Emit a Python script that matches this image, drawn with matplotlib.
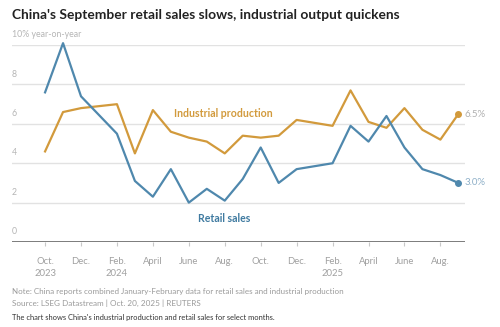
import matplotlib
matplotlib.use("Agg")
import matplotlib.pyplot as plt

plt.rcParams['font.family'] = ['Lato', 'DejaVu Sans']

# month index: Oct 2023 = 0 (January folded into February)
months = [0, 1, 2, 4, 5, 6, 7, 8, 9, 10, 11, 12, 13, 14,
          16, 17, 18, 19, 20, 21, 22, 23]
retail = [7.6, 10.1, 7.4, 5.5, 3.1, 2.3, 3.7, 2.0, 2.7, 2.1, 3.2, 4.8, 3.0, 3.7,
          4.0, 5.9, 5.1, 6.4, 4.8, 3.7, 3.4, 3.0]
industry = [4.6, 6.6, 6.8, 7.0, 4.5, 6.7, 5.6, 5.3, 5.1, 4.5, 5.4, 5.3, 5.4, 6.2,
            5.9, 7.7, 6.1, 5.8, 6.8, 5.7, 5.2, 6.5]

tick_pos = [0, 2, 4, 6, 8, 10, 12, 14, 16, 18, 20, 22]
tick_lab = ["Oct.\n2023", "Dec.", "Feb.\n2024", "April", "June", "Aug.",
            "Oct.", "Dec.", "Feb.\n2025", "April", "June", "Aug."]
yticks = [0, 2, 4, 6, 8, 10]
ylabs = ["0", "2", "4", "6", "8", "10% year-on-year"]

c_ind = '#d29a3c'
c_ret = '#4f88ad'

fig = plt.figure(figsize=(5.0, 3.27), dpi=100)
ax = fig.add_axes([0.024, 0.26, 0.906, 0.602])
x0, x1 = -1.84, 23.37
ax.set_xlim(x0, x1)
ax.set_ylim(0, 10)
for s in ax.spines.values():
    s.set_visible(False)

for v in yticks[1:]:
    ax.axhline(v, color='#e2e2e2', lw=1, zorder=0)
ax.axhline(0, color='#666666', lw=1.2, zorder=1)

ax.plot(months, industry, color=c_ind, lw=1.6, clip_on=False, zorder=3)
ax.plot(months, retail, color=c_ret, lw=1.6, clip_on=False, zorder=3)
ax.plot(months[-1], industry[-1], 'o', color=c_ind, ms=4, clip_on=False, zorder=4)
ax.plot(months[-1], retail[-1], 'o', color=c_ret, ms=4, clip_on=False, zorder=4)
ax.text(months[-1] + 0.35, industry[-1], "6.5%", color='#b0b0b0', fontsize=7,
        va='center', ha='left')
ax.text(months[-1] + 0.35, retail[-1], "3.0%", color='#8fb0c8', fontsize=7,
        va='center', ha='left')

ax.text(7.2, 6.55, "Industrial production", color=c_ind, fontsize=7.6,
        fontweight='bold', va='center')
ax.text(8.5, 1.2, "Retail sales", color='#3f7aa0', fontsize=7.6,
        fontweight='bold', va='center')

for v, l in zip(yticks, ylabs):
    ax.text(x0, v + 0.3, l, color='#b5b5b5', fontsize=6.3, va='bottom', ha='left')

ax.set_yticks([])
ax.set_xticks(tick_pos)
ax.set_xticklabels(tick_lab, fontsize=6.8, color='#a0a0a0', linespacing=1.4)
ax.tick_params(axis='x', length=3, color='#c8c8c8', pad=8)

fig.text(0.024, 0.955, "China's September retail sales slows, industrial output quickens",
         fontsize=9.9, fontweight='bold', color='#222222', va='center')
fig.text(0.024, 0.110, "Note: China reports combined January-February data for retail sales and industrial production",
         fontsize=5.8, color='#9a9a9a', va='center')
fig.text(0.024, 0.073, "Source: LSEG Datastream | Oct. 20, 2025 | REUTERS",
         fontsize=5.9, color='#9a9a9a', va='center')
fig.text(0.024, 0.030, "The chart shows China's industrial production and retail sales for select months.",
         fontsize=5.4, color='#333333', va='center')

fig.savefig("out.png", dpi=100, facecolor='white')
